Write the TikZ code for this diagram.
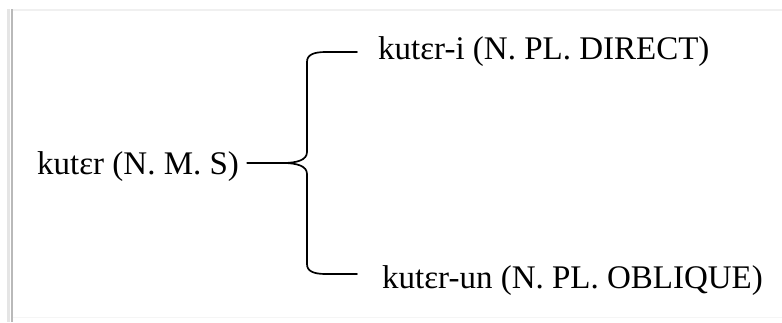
\documentclass[tikz,border=0pt]{standalone}
\usepackage{fontspec}
\setmainfont{Liberation Serif}
\begin{document}
\begin{tikzpicture}[x=1pt,y=-1pt,
  form/.style={inner sep=0pt, anchor=base west, font=\fontsize{33}{40}\selectfont},
  bracket/.style={line width=1.7pt, line cap=round, line join=round}]
\useasboundingbox (0,0) rectangle (782,322);
% frame of the text box
\draw[gray!12, line width=2pt] (11,9.5) -- (782,9.5);
\draw[gray!8, line width=1.5pt] (11,317.5) -- (782,317.5);
\draw[gray!20, line width=3pt] (8,9) -- (8,322);
\draw[gray!55, line width=2pt] (11.5,9) -- (11.5,322);
% word forms
\node[form] (src) at (37,174) {kutɛr (N. M. S)};
\node[form] (top) at (378,59) {kutɛr-i (N. PL. DIRECT)};
\node[form] (bot) at (382,288) {kutɛr-un (N. PL. OBLIQUE)};
% brace joining the singular to both plural forms
\coordinate (tip) at (283,163);
\coordinate (topend) at (357,52);
\coordinate (botend) at (357,274);
\draw[bracket] ([xshift=8pt]src.east |- tip) -- (tip);
\draw[bracket] (tip) .. controls (297,163) and (307,160) .. (307,152)
  -- (307,62) .. controls (307,55) and (313,52) .. (326,52) -- (topend);
\draw[bracket] (tip) .. controls (297,163) and (307,166) .. (307,174)
  -- (307,264) .. controls (307,271) and (313,274) .. (326,274) -- (botend);
\end{tikzpicture}
\end{document}
